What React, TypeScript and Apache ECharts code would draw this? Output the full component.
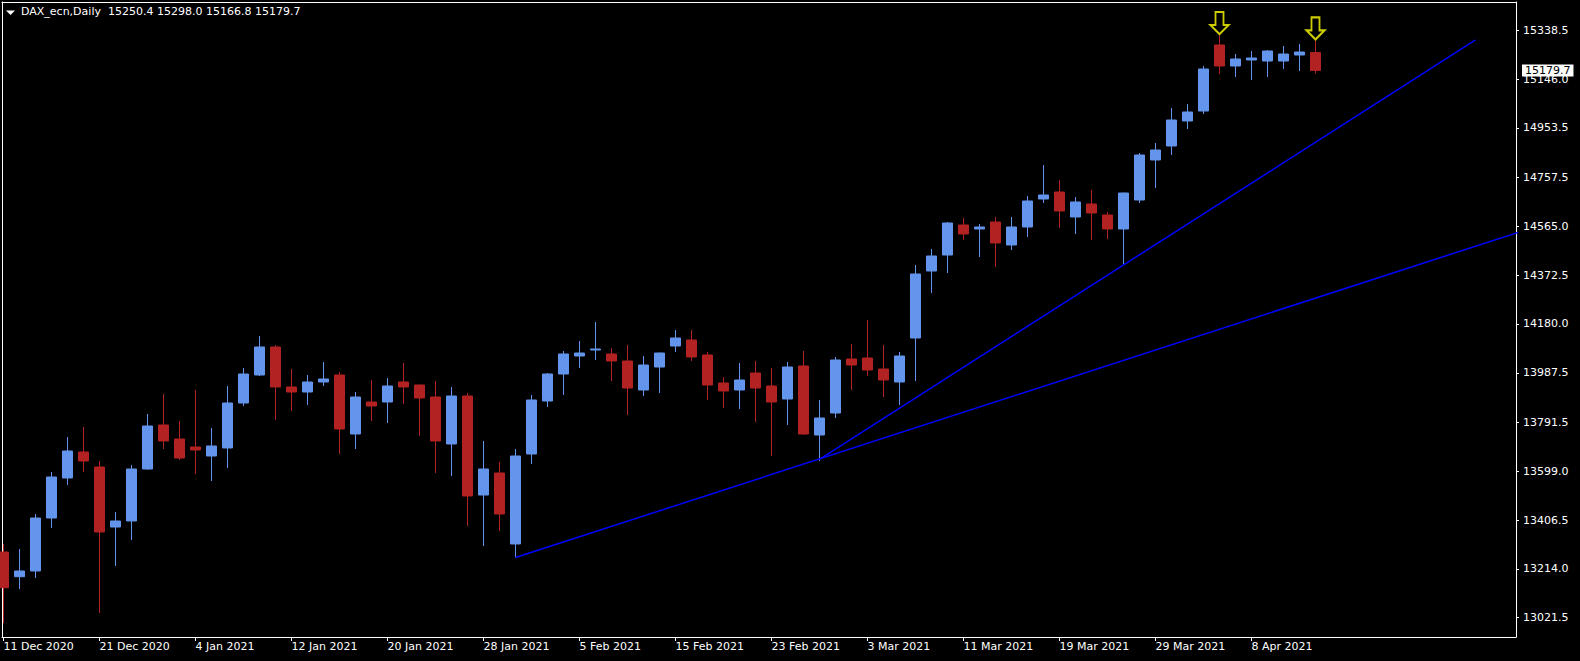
import React, { useEffect, useRef } from "react";
import * as echarts from "echarts";

const symbolName = "DAX_ecn,Daily";

const opens = [
  13280.6, 13183.2, 13205.7, 13414.7, 13572.5, 13675.0, 13615.8, 13379.2, 13402.9, 13608.0,
  13781.5, 13726.3, 13694.7, 13659.2, 13690.8, 13868.3, 13978.7, 14089.1, 13931.4, 13911.6,
  13951.1, 13978.7, 13746.0, 13872.2, 13872.2, 13951.1, 13939.2, 13891.9, 13706.6, 13895.9,
  13505.4, 13592.2, 13312.2, 13667.1, 13876.1, 13982.6, 14053.6, 14077.3, 14061.5, 14033.9,
  13919.5, 14010.2, 14093.0, 14116.7, 14057.6, 13947.1, 13919.5, 13986.6, 13935.3, 13884.0,
  14014.2, 13742.0, 13828.8, 14041.8, 14045.7, 14002.3, 13951.1, 14124.6, 14388.8, 14451.9,
  14570.2, 14554.5, 14582.1, 14491.4, 14562.4, 14672.8, 14700.4, 14601.8, 14653.1, 14609.7,
  14554.5, 14668.8, 14826.6, 14881.8, 14980.4, 15019.8, 15280.1, 15197.3, 15221.0, 15217.0,
  15217.0, 15240.7, 15250.4,
];

const closes = [
  13139.8, 13205.7, 13414.7, 13576.4, 13678.9, 13639.5, 13359.5, 13402.9, 13608.0, 13777.5,
  13718.4, 13651.3, 13682.9, 13698.7, 13868.3, 13982.6, 14089.1, 13931.4, 13911.6, 13951.1,
  13962.9, 13765.7, 13891.9, 13856.4, 13935.3, 13931.4, 13888.0, 13718.4, 13895.9, 13501.5,
  13608.0, 13430.5, 13659.2, 13880.1, 13982.6, 14061.5, 14065.4, 14081.2, 14033.9, 13927.4,
  14018.1, 14065.4, 14124.6, 14049.7, 13939.2, 13915.6, 13959.0, 13927.4, 13872.2, 14010.2,
  13746.0, 13809.1, 14037.8, 14018.1, 13998.4, 13959.0, 14053.6, 14377.0, 14448.0, 14578.1,
  14534.8, 14562.4, 14499.3, 14562.4, 14664.9, 14688.6, 14625.5, 14661.0, 14617.6, 14554.5,
  14696.4, 14846.3, 14866.0, 14984.3, 15015.9, 15185.5, 15197.3, 15224.9, 15228.9, 15256.5,
  15244.6, 15252.5, 15179.7,
];

const highs = [
  13312.2, 13292.5, 13430.5, 13596.1, 13734.2, 13773.6, 13639.5, 13438.4, 13623.7, 13824.9,
  13903.7, 13797.3, 13919.5, 13769.7, 13935.3, 14006.3, 14132.5, 14097.0, 14002.3, 13978.7,
  14029.9, 13990.5, 13911.6, 13959.0, 13966.8, 14026.0, 13941.0, 13955.0, 13931.4, 13907.7,
  13718.4, 13635.6, 13686.8, 13899.8, 13986.6, 14073.3, 14112.8, 14187.7, 14085.2, 14097.0,
  14053.6, 14067.0, 14156.1, 14156.1, 14069.4, 13970.8, 14026.0, 14033.9, 14006.3, 14029.9,
  14073.3, 13880.1, 14049.7, 14100.9, 14195.6, 14097.0, 14069.4, 14412.5, 14475.6, 14582.1,
  14597.9, 14574.2, 14601.8, 14601.8, 14684.6, 14806.9, 14747.7, 14680.7, 14708.3, 14621.5,
  14698.0, 14854.2, 14893.6, 15031.7, 15047.4, 15197.3, 15319.6, 15244.6, 15256.5, 15260.4,
  15276.2, 15284.1, 15298.0,
];

const lows = [
  13000.0, 13134.7, 13178.1, 13375.3, 13544.9, 13596.1, 13040.1, 13225.4, 13327.9, 13605.0,
  13686.8, 13643.5, 13588.2, 13560.6, 13611.9, 13856.4, 13974.7, 13801.2, 13836.7, 13860.4,
  13935.3, 13667.1, 13686.8, 13797.3, 13789.4, 13864.3, 13738.1, 13592.2, 13580.4, 13383.2,
  13304.3, 13363.4, 13258.9, 13627.7, 13852.5, 13899.8, 14006.3, 14037.8, 13955.0, 13820.9,
  13895.9, 13907.7, 14069.4, 14033.9, 13880.1, 13848.5, 13844.6, 13793.3, 13659.2, 13781.5,
  13742.0, 13639.5, 13809.1, 13919.5, 13974.7, 13891.9, 13860.4, 13955.0, 14302.1, 14380.9,
  14511.1, 14444.0, 14404.6, 14471.6, 14522.9, 14657.0, 14558.4, 14534.8, 14511.1, 14515.0,
  14416.4, 14657.0, 14716.2, 14846.3, 14948.8, 15008.0, 15165.8, 15153.9, 15142.1, 15153.9,
  15185.5, 15177.6, 15166.8,
];

const dateTickIdx = [0, 6, 12, 18, 24, 30, 36, 42, 48, 54, 60, 66, 72, 78];
const dateLabels = [
  "11 Dec 2020", "21 Dec 2020", "4 Jan 2021", "12 Jan 2021", "20 Jan 2021", "28 Jan 2021",
  "5 Feb 2021", "15 Feb 2021", "23 Feb 2021", "3 Mar 2021", "11 Mar 2021", "19 Mar 2021",
  "29 Mar 2021", "8 Apr 2021",
];

const priceTicks = [
  15338.5, 15146.0, 14953.5, 14757.5, 14565.0, 14372.5, 14180.0, 13987.5, 13791.5, 13599.0,
  13406.5, 13214.0, 13021.5,
];

const trendA = [[32, 13258.9], [100, 14650.2]];
const trendB = [[51, 13646.0], [92, 15300.0]];
const arrowIdx = [76, 82];

const FONT = "'DejaVu Sans', Verdana, sans-serif";
const UP = "#6495ED";
const DOWN = "#B22222";

export default function App() {
  const ref = useRef<HTMLDivElement>(null);
  useEffect(() => {
    const chart = echarts.init(ref.current as HTMLDivElement, null, { renderer: "svg" });
    const last = opens.length - 1;
    const candles = opens.map((o, i) => [i, o, closes[i], lows[i], highs[i]]);
    const arrows = arrowIdx.map((i) => [i, highs[i]]);
    const fmt = (v: number) => v.toFixed(1);
    const xMin = -0.09375;
    const xMax = 94.53125;
    const yMin = 12945.4;
    const yMax = 15449.7;
    const white = "#ffffff";
    const plainAxisLine = { show: true, onZero: false, lineStyle: { color: white, width: 1 } };

    chart.setOption({
      animation: false,
      backgroundColor: "#000000",
      title: {
        text: `${symbolName}\u00a0\u00a0${fmt(opens[last])} ${fmt(highs[last])} ${fmt(lows[last])} ${fmt(closes[last])}`,
        left: 21,
        top: 6,
        padding: 0,
        textStyle: { color: white, fontSize: 11, fontWeight: "normal", fontFamily: FONT },
      },
      graphic: [
        {
          type: "polygon",
          shape: { points: [[6, 10.5], [15, 10.5], [10.5, 15]] },
          style: { fill: white },
        },
      ],
      grid: { left: 2, right: 64, top: 2, bottom: 24, outerBoundsMode: "none" },
      xAxis: [
        {
          type: "value",
          min: xMin,
          max: xMax,
          position: "bottom",
          axisLine: plainAxisLine,
          splitLine: { show: false },
          axisTick: { show: true, customValues: dateTickIdx, length: 4, lineStyle: { color: white } },
          axisLabel: {
            customValues: dateTickIdx,
            formatter: (v: number) => {
              const k = dateTickIdx.indexOf(Math.round(v));
              return k >= 0 ? dateLabels[k] : "";
            },
            color: white,
            fontFamily: FONT,
            fontSize: 11,
            align: "left",
            margin: 4,
          },
        },
        {
          type: "value",
          min: xMin,
          max: xMax,
          position: "top",
          axisLine: plainAxisLine,
          splitLine: { show: false },
          axisTick: { show: false },
          axisLabel: { show: false },
        },
      ],
      yAxis: [
        {
          type: "value",
          min: yMin,
          max: yMax,
          position: "right",
          axisLine: plainAxisLine,
          splitLine: { show: false },
          axisTick: { show: true, customValues: priceTicks, length: 3, lineStyle: { color: white } },
          axisLabel: {
            customValues: priceTicks,
            formatter: (v: number) => fmt(v),
            color: white,
            fontFamily: FONT,
            fontSize: 11,
            margin: 7,
          },
        },
        {
          type: "value",
          min: yMin,
          max: yMax,
          position: "left",
          axisLine: plainAxisLine,
          splitLine: { show: false },
          axisTick: { show: false },
          axisLabel: { show: false },
        },
      ],
      series: [
        {
          type: "candlestick",
          xAxisIndex: 0,
          yAxisIndex: 0,
          data: candles,
          encode: { x: 0, y: [1, 2, 3, 4] },
          barWidth: 10,
          clip: true,
          itemStyle: {
            color: UP,
            color0: DOWN,
            borderColor: UP,
            borderColor0: DOWN,
            borderWidth: 1,
          },
        },
        {
          type: "line",
          xAxisIndex: 0,
          yAxisIndex: 0,
          data: trendA,
          symbol: "none",
          clip: true,
          lineStyle: { color: "#0000FF", width: 1.5 },
        },
        {
          type: "line",
          xAxisIndex: 0,
          yAxisIndex: 0,
          data: trendB,
          symbol: "none",
          clip: true,
          lineStyle: { color: "#0000FF", width: 1.5 },
          markLine: {
            silent: true,
            symbol: "none",
            z: 10,
            data: [{ yAxis: closes[last] }],
            lineStyle: { color: "rgba(0,0,0,0)", width: 1, type: "solid" },
            label: {
              show: true,
              position: "end",
              formatter: fmt(closes[last]),
              backgroundColor: white,
              color: "#000000",
              fontFamily: FONT,
              fontSize: 11,
              padding: [1, 3, 0, 3],
              distance: 6,
            },
          },
        },
        {
          type: "scatter",
          xAxisIndex: 0,
          yAxisIndex: 0,
          data: arrows,
          symbol: "path://M5,0 L13,0 L13,13 L18,13 L9,22 L0,13 L5,13 Z",
          symbolSize: [18, 22],
          symbolOffset: [0, -12],
          itemStyle: { color: "rgba(0,0,0,0)", borderColor: "#FFFF00", borderWidth: 2 },
        },
      ],
    });
    return () => chart.dispose();
  }, []);
  return (
    <div
      ref={ref}
      style={{ position: "fixed", left: 0, top: 0, width: 1580, height: 661, background: "#000" }}
    />
  );
}
